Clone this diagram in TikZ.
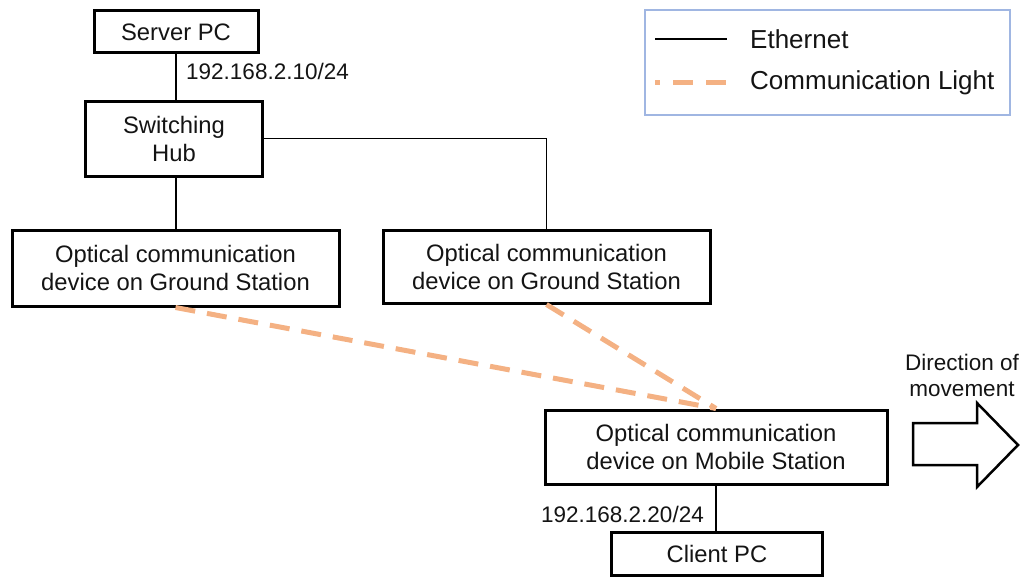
\documentclass[tikz,border=0pt]{standalone}
\usepackage{fontspec}
\setmainfont{Liberation Sans}
\definecolor{lightorange}{RGB}{244,177,131}
\definecolor{legendblue}{RGB}{160,182,226}
\definecolor{ink}{RGB}{20,20,20}
\begin{document}
\begin{tikzpicture}[x=1pt,y=-1pt,
  font=\fontsize{22.5}{28}\selectfont,
  box/.style={draw=black,line width=3pt,align=center,inner sep=0pt,text=ink,
    font=\fontsize{23.8}{28}\selectfont},
  eth/.style={draw=black,line width=1.8pt},
  light/.style={draw=lightorange,line width=5pt,dash pattern=on 20pt off 12pt},
  lbl/.style={inner sep=0pt,text=ink},
  legtxt/.style={lbl,anchor=west,font=\fontsize{26}{30}\selectfont}]
\useasboundingbox (0,0) rectangle (1025,578);

% devices
\node[box,minimum width=164pt,minimum height=42pt] (server) at (176,32) {Server PC};
\node[box,minimum width=177pt,minimum height=75pt] (hub) at (174,138.5) {Switching\\Hub};
\node[box,minimum width=327pt,minimum height=76pt] (gs1) at (175.5,268) {Optical communication\\device on Ground Station};
\node[box,minimum width=327pt,minimum height=73pt] (gs2) at (546.5,266.5) {Optical communication\\device on Ground Station};
\node[box,minimum width=342pt,minimum height=74pt] (mob) at (716,447) {Optical communication\\device on Mobile Station};
\node[box,minimum width=211pt,minimum height=43pt] (client) at (717,553.5) {Client PC};

% addresses
\node[lbl,anchor=west] (ipserver) at (186,71) {192.168.2.10/24};
\node[lbl,anchor=east] (ipclient) at (704,514) {192.168.2.20/24};

% ethernet links
\coordinate (hubtop) at (server.south |- hub.north);
\coordinate (hubbot) at (server.south |- hub.south);
\coordinate (gs1top) at (server.south |- gs1.north);
\draw[eth] (server.south) -- (hubtop);
\draw[eth] (hubbot) -- (gs1top);
\draw[eth] (hub.east) -| (gs2.north);
\draw[eth] (mob.south) -- (mob.south |- client.north);

% optical links
\draw[light] (gs1.south) -- (mob.north);
\draw[light] (gs2.south) -- (mob.north);

% legend
\node[draw=legendblue,line width=1.5pt,minimum width=365pt,minimum height=105pt,inner sep=0pt] (legend) at (827.5,62.5) {};
\coordinate (ethA) at (655,39);
\coordinate (ethB) at (727,39);
\coordinate (litA) at (655,82);
\coordinate (litB) at (727,82);
\draw[black,line width=2pt] (ethA) -- (ethB);
\draw[lightorange,line width=5pt,dash pattern=on 20pt off 13pt,dash phase=15pt] (litA) -- (litB);
\node[legtxt] (ethtxt) at (750,39) {Ethernet};
\node[legtxt] (littxt) at (750,83) {Communication Light};

% direction of movement
\node[lbl,align=center,font=\fontsize{22.5}{26}\selectfont] (dirtxt) at (962,375) {Direction of\\movement};
\draw[black,line width=2.5pt,line join=miter,fill=white]
  (913,423) -- (977,423) -- (977,403) -- (1018,445) -- (977,487) -- (977,465) -- (913,465) -- cycle;
\end{tikzpicture}
\end{document}
